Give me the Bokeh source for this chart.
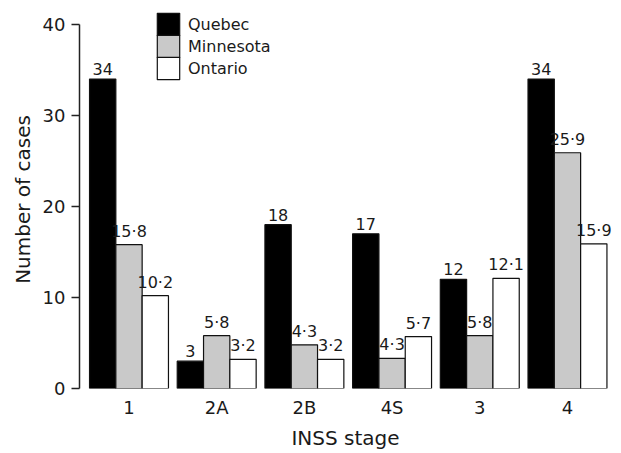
from bokeh.plotting import figure
from bokeh.models import ColumnDataSource, Legend, LegendItem, FixedTicker
from bokeh.transform import dodge
from bokeh.core.properties import value
from bokeh.embed import file_html
from bokeh.resources import INLINE

stages = ["1", "2A", "2B", "4S", "3", "4"]
series = ["Quebec", "Minnesota", "Ontario"]
quebec = [34, 3, 18, 17, 12, 34]
minnesota = [15.8, 5.8, 4.8, 3.3, 5.8, 25.9]
ontario = [10.2, 3.2, 3.2, 5.7, 12.1, 15.9]
quebec_labels = ["34", "3", "18", "17", "12", "34"]
minnesota_labels = ["15·8", "5·8", "4·3", "4·3", "5·8", "25·9"]
ontario_labels = ["10·2", "3·2", "3·2", "5·7", "12·1", "15·9"]
y_ticks = [0, 10, 20, 30, 40]

FONT = "DejaVu Sans"
TXT = "#1a1a1a"

src = ColumnDataSource(dict(
    x=list(range(len(stages))),
    Quebec=quebec, Minnesota=minnesota, Ontario=ontario,
    Quebec_l=quebec_labels, Minnesota_l=minnesota_labels, Ontario_l=ontario_labels,
))

p = figure(width=621, height=453, output_backend="svg", toolbar_location=None,
           x_range=(-0.5644, 5.502), y_range=(0, 41.53),
           min_border_left=79, min_border_right=10, min_border_top=10, min_border_bottom=65)
p.background_fill_color = "white"
p.border_fill_color = "white"
p.outline_line_color = None
p.grid.visible = False

fills = ["black", "#c9c9c9", "white"]
offsets = [-0.3, 0.0, 0.3]
for i, (name, fc, off) in enumerate(zip(series, fills, offsets)):
    r = p.vbar(x=dodge("x", off), top=name, width=0.3, bottom=0, source=src,
               fill_color=fc, line_color="#111111", line_width=1.2)
    p.text(x=dodge("x", off), y=name, text=name + "_l", source=src,
           text_font=value(FONT), text_font_size="16px", text_color=TXT,
           text_align="center", text_baseline="bottom", y_offset=-4)
    leg = Legend(items=[LegendItem(label=name, renderers=[r])],
                 location=(75, 350 - 22 * i),
                 glyph_width=28, glyph_height=28, label_height=28,
                 padding=0, margin=0, spacing=0, label_standoff=6,
                 label_text_font=FONT, label_text_font_size="16px", label_text_color=TXT,
                 border_line_color=None, background_fill_alpha=0)
    p.add_layout(leg)

ya = p.yaxis[0]
ya.ticker = FixedTicker(ticks=y_ticks)
ya.bounds = (0, 40)
ya.axis_label = "Number of cases"
ya.axis_label_text_font = FONT
ya.axis_label_text_font_size = "20px"
ya.axis_label_text_font_style = "normal"
ya.axis_label_text_color = TXT
ya.axis_label_standoff = 5
ya.major_label_text_font = FONT
ya.major_label_text_font_size = "18px"
ya.major_label_text_color = TXT
ya.major_label_standoff = 6
ya.major_tick_out = 8
ya.major_tick_in = 0
ya.minor_tick_line_color = None
ya.axis_line_color = "#222222"
ya.axis_line_width = 1.5
ya.major_tick_line_color = "#222222"
ya.major_tick_line_width = 1.5

xa = p.xaxis[0]
xa.ticker = FixedTicker(ticks=list(range(len(stages))))
xa.major_label_overrides = {i: s for i, s in enumerate(stages)}
xa.axis_label = "INSS stage"
xa.axis_label_text_font = FONT
xa.axis_label_text_font_size = "20px"
xa.axis_label_text_font_style = "normal"
xa.axis_label_text_color = TXT
xa.axis_label_standoff = 5
xa.major_label_text_font = FONT
xa.major_label_text_font_size = "18px"
xa.major_label_text_color = TXT
xa.major_label_standoff = 8
xa.major_tick_out = 0
xa.major_tick_in = 0
xa.axis_line_color = None
xa.major_tick_line_color = None
xa.minor_tick_line_color = None

open("out.html", "w").write(file_html(p, INLINE))
